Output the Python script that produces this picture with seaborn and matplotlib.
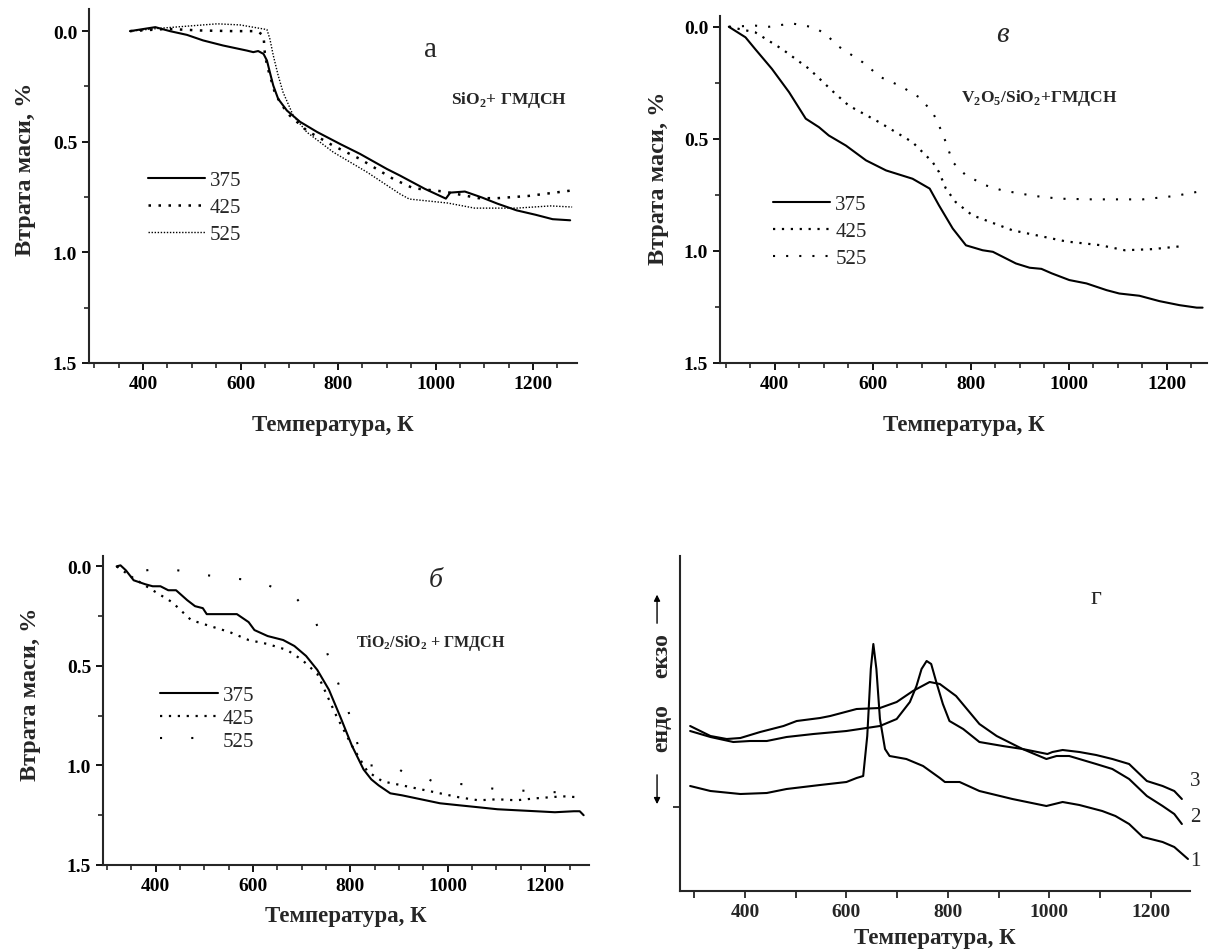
import matplotlib
matplotlib.use("Agg")
import matplotlib.pyplot as plt
from matplotlib.ticker import MultipleLocator, FormatStrFormatter, NullFormatter
import seaborn as sns

# ---- панель а: SiO2 + ГМДСН (втрата маси, %)
a_t375 = [373, 425, 455, 490, 523, 564, 613, 626, 636, 647, 654, 660, 667, 677, 695, 722, 757, 804,
          845, 900, 927, 978, 1021, 1030, 1060, 1095, 1127, 1166, 1205, 1240, 1276]
a_m375 = [0.0, -0.018, 0.0, 0.017, 0.042, 0.065, 0.088, 0.095, 0.09, 0.103, 0.133, 0.186, 0.246, 0.306,
          0.359, 0.41, 0.456, 0.51, 0.555, 0.623, 0.653, 0.713, 0.757, 0.73, 0.725, 0.752, 0.78, 0.81,
          0.83, 0.85, 0.855]
a_t425 = [373, 449, 517, 585, 634, 647, 650, 656, 671, 685, 701, 736, 790, 845, 913, 954, 1017, 1088,
          1127, 1190, 1280]
a_m425 = [0.0, -0.01, -0.003, 0.0, 0.0, 0.02, 0.11, 0.17, 0.284, 0.336, 0.382, 0.45, 0.518, 0.578,
          0.668, 0.71, 0.725, 0.755, 0.755, 0.745, 0.72]
a_t525 = [373, 435, 552, 599, 654, 660, 667, 677, 687, 708, 736, 790, 859, 927, 946, 1025, 1080, 1166,
          1236, 1280]
a_m525 = [0.0, -0.013, -0.033, -0.028, -0.007, 0.035, 0.11, 0.2, 0.276, 0.382, 0.457, 0.547, 0.637,
          0.736, 0.759, 0.777, 0.8, 0.8, 0.79, 0.795]

# ---- панель в: V2O5/SiO2 + ГМДСН
v_t375 = [306, 340, 360, 394, 429, 463, 490, 510, 545, 586, 627, 681, 716, 735, 763, 790, 824, 845,
          892, 920, 944, 965, 1001, 1036, 1077, 1103, 1144, 1185, 1226, 1261, 1273]
v_m375 = [0.0, 0.047, 0.1, 0.188, 0.292, 0.41, 0.448, 0.485, 0.53, 0.596, 0.641, 0.678, 0.722, 0.797,
          0.9, 0.975, 0.997, 1.004, 1.056, 1.075, 1.08, 1.1, 1.13, 1.145, 1.175, 1.19, 1.2, 1.224,
          1.242, 1.253, 1.253]
v_t425 = [306, 360, 415, 470, 524, 551, 613, 681, 722, 735, 749, 769, 803, 885, 995, 1063, 1114, 1171,
          1230]
v_m425 = [0.0, 0.025, 0.1, 0.188, 0.3, 0.352, 0.426, 0.515, 0.604, 0.648, 0.722, 0.782, 0.841, 0.908,
          0.958, 0.974, 0.997, 0.992, 0.979]
v_t525 = [306, 360, 388, 435, 480, 504, 528, 579, 616, 657, 694, 722, 735, 749, 763, 790, 831, 864,
          930, 981, 1049, 1097, 1151, 1216, 1261, 1281]
v_m525 = [0.0, -0.005, 0.0, -0.015, 0.003, 0.033, 0.085, 0.158, 0.225, 0.265, 0.314, 0.381, 0.44,
          0.515, 0.604, 0.663, 0.708, 0.73, 0.755, 0.767, 0.77, 0.77, 0.77, 0.755, 0.737, 0.727]

# ---- панель б: TiO2/SiO2 + ГМДСН
b_t375 = [320, 328, 339, 355, 379, 394, 410, 426, 442, 465, 481, 497, 505, 520, 567, 591, 603, 630,
          662, 685, 709, 732, 756, 780, 803, 827, 843, 858, 882, 906, 945, 984, 1023, 1063, 1102,
          1141, 1181, 1220, 1259, 1271, 1279]
b_m375 = [0.0, -0.005, 0.02, 0.07, 0.09, 0.1, 0.1, 0.12, 0.12, 0.17, 0.2, 0.21, 0.24, 0.24, 0.24,
          0.28, 0.32, 0.35, 0.37, 0.4, 0.45, 0.52, 0.62, 0.76, 0.9, 1.02, 1.07, 1.1, 1.14, 1.15,
          1.17, 1.19, 1.2, 1.21, 1.22, 1.225, 1.23, 1.235, 1.23, 1.23, 1.25]
b_t425 = [320, 355, 394, 434, 473, 512, 552, 591, 630, 670, 701, 732, 771, 803, 835, 866, 906, 945,
          984, 1023, 1063, 1102, 1141, 1181, 1236, 1271]
b_m425 = [0.0, 0.06, 0.12, 0.18, 0.27, 0.3, 0.33, 0.37, 0.39, 0.42, 0.47, 0.54, 0.75, 0.9, 1.03,
          1.08, 1.1, 1.12, 1.14, 1.16, 1.175, 1.17, 1.175, 1.165, 1.155, 1.16]
b_t525 = [320, 343, 418, 473, 489, 595, 618, 689, 729, 756, 795, 827, 890, 906, 945, 969, 1008, 1035,
          1102, 1181, 1271]
b_m525 = [0.0, 0.03, 0.01, 0.03, 0.04, 0.07, 0.08, 0.16, 0.28, 0.46, 0.72, 1.0, 1.0, 1.03, 1.05,
          1.08, 1.09, 1.095, 1.12, 1.13, 1.14]

# ---- панель г: ДТА, відн. од.
g_t1 = [292, 332, 391, 443, 482, 548, 600, 620, 633, 641, 648, 653, 659, 666, 676, 685, 718, 751,
        784, 794, 823, 862, 927, 994, 1026, 1059, 1104, 1130, 1157, 1184, 1223, 1246, 1273]
g_s1 = [2.1, 1.6, 1.3, 1.4, 1.8, 2.2, 2.5, 2.9, 3.1, 7.1, 13.8, 16.3, 13.8, 8.8, 5.8, 5.1, 4.8, 4.1,
        2.9, 2.5, 2.5, 1.6, 0.8, 0.1, 0.5, 0.2, -0.4, -0.9, -1.7, -3.0, -3.5, -4.0, -5.2]
g_t2 = [292, 332, 364, 391, 430, 476, 502, 548, 568, 620, 666, 699, 731, 764, 784, 816, 862, 896,
        947, 994, 1014, 1039, 1092, 1124, 1157, 1192, 1223, 1246, 1261]
g_s2 = [8.1, 7.1, 6.8, 6.9, 7.5, 8.1, 8.6, 8.9, 9.1, 9.8, 9.9, 10.5, 11.6, 12.5, 12.3, 11.1, 8.3,
        7.1, 5.8, 4.8, 5.1, 5.1, 4.3, 3.8, 2.8, 1.1, 0.1, -0.7, -1.7]
g_t3 = [292, 332, 377, 410, 443, 482, 535, 600, 666, 699, 725, 738, 748, 758, 767, 777, 790, 803,
        830, 862, 908, 947, 996, 1006, 1026, 1059, 1092, 1124, 1157, 1192, 1223, 1246, 1261]
g_s3 = [7.6, 7.0, 6.5, 6.6, 6.6, 7.0, 7.3, 7.6, 8.1, 8.8, 10.5, 12.1, 13.8, 14.6, 14.3, 12.5, 10.3,
        8.6, 7.8, 6.5, 6.1, 5.8, 5.3, 5.5, 5.7, 5.5, 5.2, 4.8, 4.3, 2.6, 2.1, 1.6, 0.8]

labels = ["375", "425", "525"]
xlabel = "Температура, К"
ylabel = "Втрата маси, %"

sns.set_theme(style="ticks")
plt.rcParams["font.family"] = ["Liberation Serif", "DejaVu Serif"]
plt.rcParams["font.weight"] = "bold"
plt.rcParams["axes.labelweight"] = "bold"
plt.rcParams["mathtext.fontset"] = "custom"
plt.rcParams["mathtext.rm"] = "Liberation Serif:bold"
plt.rcParams["mathtext.bf"] = "Liberation Serif:bold"
plt.rcParams["axes.linewidth"] = 1.5

W, H = 1213, 953
fig = plt.figure(figsize=(W / 100, H / 100), dpi=100)


def box(l, r, t, b):
    return [l / W, 1 - b / H, (r - l) / W, (b - t) / H]


def tga_axes(ax, xlim, ytop, xpad, ylab_xy):
    ax.set_xlim(*xlim)
    ax.set_ylim(1.5, ytop)
    ax.xaxis.set_major_locator(MultipleLocator(200))
    ax.xaxis.set_minor_locator(MultipleLocator(50))
    ax.yaxis.set_major_locator(MultipleLocator(0.5))
    ax.yaxis.set_minor_locator(MultipleLocator(0.25))
    ax.yaxis.set_major_formatter(FormatStrFormatter("%.1f"))
    ax.tick_params(which="major", direction="out", length=5, width=1.3, labelsize=14,
                   colors="black")
    ax.tick_params(which="minor", direction="out", length=3.5, width=1.2)
    sns.despine(ax=ax)
    ax.set_xlabel(xlabel, fontsize=16.5, labelpad=xpad)
    ax.set_ylabel(ylabel, fontsize=17.5)
    ax.yaxis.set_label_coords(*ylab_xy)


def tga_lines(ax, t, m, styles):
    for (x, y), lab, (ls, lw) in zip(zip(t, m), labels, styles):
        sns.lineplot(x=x, y=y, ax=ax, color="black", linestyle=ls, lw=lw, label=lab,
                     estimator=None, sort=False)


def tga_legend(ax, anchor, spacing):
    ax.legend(loc="center left", bbox_to_anchor=anchor, bbox_transform=ax.transData,
              frameon=False, borderpad=0, borderaxespad=0, handlelength=2.75,
              handletextpad=0.25, labelspacing=spacing,
              prop={"size": 15, "weight": "normal"})


# а
ax_a = fig.add_axes(box(89, 577, 10, 364))
tga_lines(ax_a, [a_t375, a_t425, a_t525], [a_m375, a_m425, a_m525],
          [("-", 1.5), ((0, (1, 3)), 1.8), ((0, (1, 1.2)), 1.0)])
tga_axes(ax_a, (289, 1290), -0.1, 16, (-0.108, 0.55))
tga_legend(ax_a, (409, 0.796), 0.35)
ax_a.text(990, 0.08, "а", fontsize=21, fontweight="normal", ha="center", va="center")
ax_a.text(1031, 0.306, r"SiO$_2$+ ГМДСН", fontsize=12.5, ha="left", va="center")

# в
ax_v = fig.add_axes(box(720, 1207, 17, 364))
tga_lines(ax_v, [v_t375, v_t425, v_t525], [v_m375, v_m425, v_m525],
          [("-", 1.5), ((0, (1, 3)), 1.6), ((0, (1, 5.3)), 1.5)])
tga_axes(ax_v, (288, 1282), -0.048, 16, (-0.105, 0.535))
tga_legend(ax_v, (396, 0.913), 0.35)
ax_v.text(864, 0.033, "в", fontsize=21, fontweight="normal", fontstyle="italic",
          ha="center", va="center")
ax_v.text(780, 0.315, r"V$_2$O$_5$/SiO$_2$+ГМДСН", fontsize=12.5, ha="left", va="center")

# б
ax_b = fig.add_axes(box(103, 589, 557, 866))
tga_lines(ax_b, [b_t375, b_t425, b_t525], [b_m375, b_m425, b_m525],
          [("-", 1.5), ((0, (1, 3)), 1.6), ((0, (1, 14)), 1.5)])
tga_axes(ax_b, (292, 1290), -0.052, 8, (-0.128, 0.555))
tga_legend(ax_b, (410, 0.762), 0.15)
ax_b.text(976, 0.064, "б", fontsize=20, fontweight="normal", fontstyle="italic",
          ha="center", va="center")
ax_b.text(811, 0.38, r"TiO$_2$/SiO$_2$ + ГМДСН", fontsize=11.5, ha="left", va="center")

# г
ax_g = fig.add_axes(box(680, 1190, 557, 892))
for x, y in [(g_t1, g_s1), (g_t2, g_s2), (g_t3, g_s3)]:
    sns.lineplot(x=x, y=y, ax=ax_g, color="black", lw=1.5, estimator=None, sort=False)
ax_g.set_xlim(272, 1277)
ax_g.set_ylim(-8.4, 25.1)
ax_g.xaxis.set_major_locator(MultipleLocator(200))
ax_g.xaxis.set_minor_locator(MultipleLocator(100))
ax_g.set_yticks([0])
ax_g.yaxis.set_major_formatter(NullFormatter())
ax_g.tick_params(which="both", direction="out", length=5, width=1.3, labelsize=14)
sns.despine(ax=ax_g)
ax_g.set_xlabel(xlabel, fontsize=16.5, labelpad=5)
ax_g.set_ylabel("")
ax_g.text(1092, 21, "г", fontsize=19, fontweight="normal", ha="center", va="center")
for lab, yy in [("3", 2.6), ("2", -1.0), ("1", -5.4)]:
    ax_g.text(1288, yy, lab, fontsize=15, fontweight="normal", ha="center", va="center",
              clip_on=False)
ax_g.text(-0.035, 0.707, "екзо", transform=ax_g.transAxes, rotation=90, fontsize=17,
          ha="center", va="center")
ax_g.text(-0.035, 0.49, "ендо", transform=ax_g.transAxes, rotation=90, fontsize=17,
          ha="center", va="center")
arrow = dict(arrowstyle="-|>", lw=1.0, color="black", mutation_scale=9)
ax_g.annotate("", xy=(-0.045, 0.893), xytext=(-0.045, 0.791), xycoords="axes fraction",
              arrowprops=arrow, annotation_clip=False)
ax_g.annotate("", xy=(-0.045, 0.251), xytext=(-0.045, 0.355), xycoords="axes fraction",
              arrowprops=arrow, annotation_clip=False)

fig.savefig("out.png", dpi=100)
